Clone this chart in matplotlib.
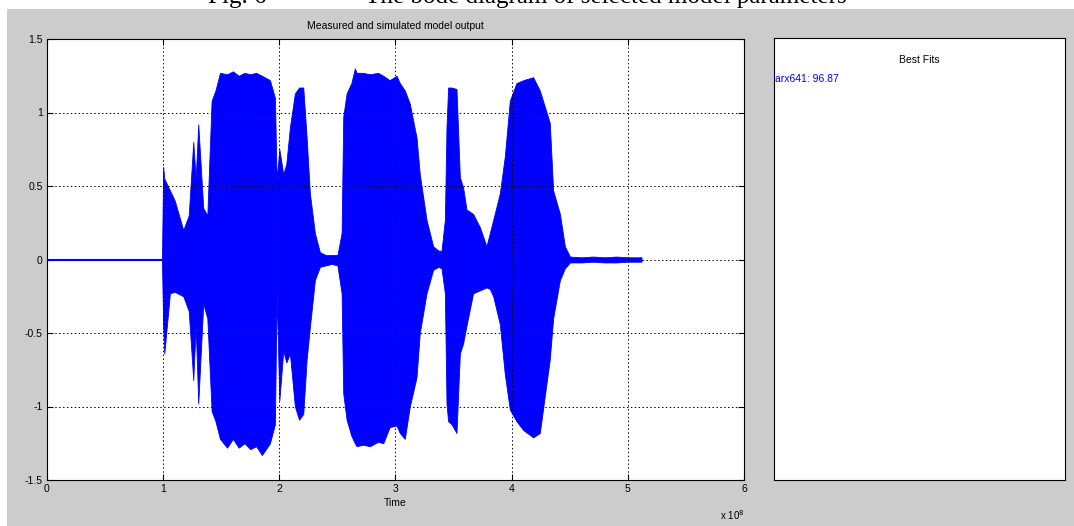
import numpy as np
import matplotlib.pyplot as plt
from matplotlib.patches import Rectangle

# envelope of the measured output, time in units of 1e8
t = [0.99, 1.00, 1.01, 1.058, 1.10, 1.173, 1.22, 1.259, 1.28, 1.302,
     1.345, 1.38, 1.417, 1.45, 1.489, 1.55, 1.60, 1.65, 1.70, 1.75,
     1.80, 1.85, 1.919, 1.962, 1.977, 2.00, 2.034, 2.06, 2.091, 2.134,
     2.17, 2.206, 2.235, 2.263, 2.306, 2.349, 2.40, 2.45, 2.50, 2.536,
     2.550, 2.579, 2.62, 2.650, 2.665, 2.72, 2.78, 2.85, 2.894, 2.95,
     3.009, 3.037, 3.08, 3.123, 3.181, 3.209, 3.267, 3.324, 3.37, 3.396,
     3.425, 3.439, 3.453, 3.482, 3.525, 3.554, 3.582, 3.611, 3.668, 3.726,
     3.783, 3.812, 3.841, 3.898, 3.941, 3.984, 4.041, 4.10, 4.185, 4.242,
     4.328, 4.357, 4.415, 4.458, 4.501, 4.6, 4.7, 4.8, 4.9, 5.0, 5.118]
upper = [0.02, 0.63, 0.55, 0.47, 0.40, 0.20, 0.30, 0.80, 0.55, 0.92,
         0.35, 0.30, 1.08, 1.15, 1.27, 1.26, 1.28, 1.25, 1.27, 1.26,
         1.27, 1.25, 1.22, 1.10, 0.54, 0.75, 0.58, 0.65, 0.90, 1.13,
         1.17, 1.17, 0.83, 0.45, 0.18, 0.05, 0.03, 0.03, 0.03, 0.18,
         0.97, 1.13, 1.20, 1.30, 1.27, 1.27, 1.26, 1.27, 1.25, 1.22,
         1.25, 1.20, 1.15, 1.06, 0.83, 0.58, 0.27, 0.09, 0.06, 0.06,
         0.27, 0.90, 1.17, 1.17, 1.16, 0.56, 0.49, 0.34, 0.31, 0.22,
         0.09, 0.18, 0.27, 0.45, 0.70, 1.08, 1.20, 1.22, 1.24, 1.15,
         0.93, 0.47, 0.31, 0.09, 0.02, 0.015, 0.02, 0.015, 0.02, 0.015, 0.015]
lower = [-0.02, -0.45, -0.64, -0.23, -0.22, -0.25, -0.35, -0.82, -0.45, -0.98,
         -0.30, -0.40, -1.03, -1.10, -1.22, -1.28, -1.22, -1.28, -1.25, -1.29,
         -1.27, -1.33, -1.25, -1.12, -0.23, -0.96, -0.62, -0.70, -0.64, -1.00,
         -1.09, -1.05, -0.68, -0.46, -0.14, -0.05, -0.04, -0.03, -0.04, -0.23,
         -0.91, -1.09, -1.20, -1.25, -1.27, -1.26, -1.27, -1.24, -1.25, -1.14,
         -1.13, -1.18, -1.22, -1.00, -0.80, -0.50, -0.23, -0.07, -0.05, -0.06,
         -0.23, -0.98, -1.10, -1.12, -1.18, -0.64, -0.57, -0.45, -0.23, -0.21,
         -0.19, -0.20, -0.25, -0.44, -0.78, -1.02, -1.10, -1.16, -1.21, -1.18,
         -0.68, -0.40, -0.14, -0.06, -0.02, -0.02, -0.015, -0.02, -0.02, -0.015, -0.015]

xticks = [0, 1, 2, 3, 4, 5, 6]
yticks = [-1.5, -1, -0.5, 0, 0.5, 1, 1.5]
fit_name = 'arx641'
fit_value = 96.87

FONT = ['Liberation Sans', 'DejaVu Sans']


def main():
    plt.rcParams['font.family'] = FONT
    fig = plt.figure(figsize=(10.74, 5.26), dpi=100)
    fig.patch.set_facecolor('white')

    # grey matlab figure area
    fig.patches.append(Rectangle((7 / 1074, 0), 1, 1 - 9 / 526,
                                 transform=fig.transFigure,
                                 facecolor='#cccccc', edgecolor='none', zorder=-10))

    # caption of the paper, cut at the top edge like in the scan
    fig.text(208 / 1074, 1 - 3 / 526, 'Fig. 6', family='Liberation Serif',
             fontsize=18, va='baseline', ha='left')
    fig.text(365 / 1074, 1 - 3 / 526, 'The bode diagram of selected model parameters',
             family='Liberation Serif', fontsize=18, va='baseline', ha='left')

    ax = fig.add_axes([47 / 1074, 46 / 526, 697 / 1074, 441 / 526])
    ax.set_facecolor('white')
    ax.plot([0, 0.99], [0, 0], color='blue', lw=1.5)
    ax.fill_between(t, lower, upper, color='blue', lw=0.6)
    ax.plot([t[0], t[-1]], [0, 0], color='blue', lw=0.8)

    ax.set_xlim(0, 6)
    ax.set_ylim(-1.5, 1.5)
    ax.set_xticks(xticks)
    ax.set_yticks(yticks)
    ax.set_xticklabels([str(v) for v in xticks])
    ax.set_yticklabels(['-1.5', '-1', '-0.5', '0', '0.5', '1', '1.5'])
    ax.tick_params(direction='in', top=True, right=True, length=4,
                   labelsize=7.5, colors='black', pad=3)
    ax.grid(True, color='black', linestyle=(0, (1.5, 2.5)), lw=0.7)
    for s in ax.spines.values():
        s.set_linewidth(0.8)
    ax.set_title('Measured and simulated model output', fontsize=7.5, pad=7)
    ax.set_xlabel('Time', fontsize=7.5, labelpad=3)
    ax.text(1.0, -0.065, r'x 10$^{8}$', transform=ax.transAxes,
            ha='right', va='top', fontsize=7)

    bx = fig.add_axes([774 / 1074, 46 / 526, 291 / 1074, 442 / 526])
    bx.set_facecolor('white')
    bx.set_xticks([])
    bx.set_yticks([])
    for s in bx.spines.values():
        s.set_linewidth(0.8)
    bx.text(0.5, 0.95, 'Best Fits', transform=bx.transAxes, ha='center',
            va='center', fontsize=7.5)
    bx.text(0.003, 0.908, '%s: %.2f' % (fit_name, fit_value), transform=bx.transAxes,
            ha='left', va='center', fontsize=7.5, color='blue')

    fig.savefig('out.png', dpi=100)


if __name__ == '__main__':
    main()
